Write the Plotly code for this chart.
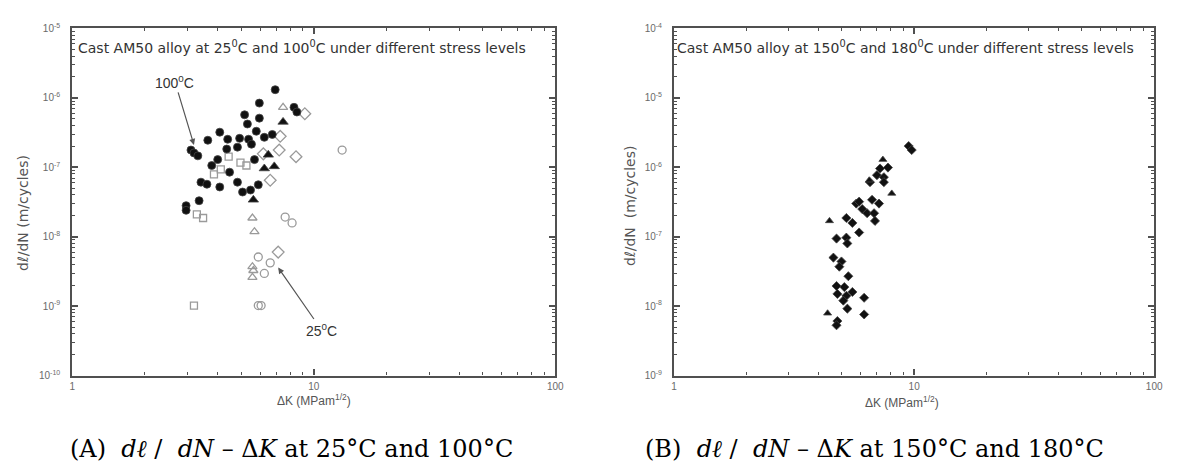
import math
import plotly.graph_objects as go

# ---------------- Data (ΔK in MPa·m^1/2, dl/dN in m/cycle) ----------------
# Panel A: 100°C (filled) and 25°C (open) at several stress levels
a100_circ_x = [6.92, 5.95, 5.17, 5.31, 5.95, 8.28, 8.51, 4.08, 3.64, 4.40, 4.93, 5.37, 5.52,
               5.78, 6.24, 6.73, 4.36, 4.83, 3.10, 3.19, 3.31, 4.00, 3.78, 5.68, 4.48, 3.41,
               3.61, 4.08, 4.83, 5.07, 5.47, 5.89, 3.35, 2.96, 2.96]
a100_circ_y = [1.31e-6, 8.4e-7, 5.7e-7, 4.2e-7, 5.1e-7, 7.3e-7, 6.25e-7, 3.2e-7, 2.45e-7, 2.53e-7,
               2.61e-7, 2.53e-7, 2.15e-7, 3.3e-7, 2.7e-7, 2.97e-7, 1.83e-7, 1.95e-7, 1.77e-7,
               1.61e-7, 1.46e-7, 1.29e-7, 1.06e-7, 1.29e-7, 8.5e-8, 6.1e-8, 5.7e-8, 5.2e-8,
               6.1e-8, 4.4e-8, 4.7e-8, 5.6e-8, 3.3e-8, 2.8e-8, 2.4e-8]
a100_tri_x = [7.46, 6.48, 6.24, 6.86, 5.62]
a100_tri_y = [4.5e-7, 1.51e-7, 9.6e-8, 1.03e-7, 3.4e-8]

a25_sq_x = [4.44, 4.97, 5.26, 3.86, 4.12, 3.28, 3.48, 3.19]
a25_sq_y = [1.42e-7, 1.17e-7, 1.06e-7, 7.9e-8, 9.3e-8, 2.1e-8, 1.86e-8, 1.02e-9]
a25_tri_x = [7.46, 5.57, 5.68, 5.57, 5.62, 5.57]
a25_tri_y = [7.3e-7, 1.86e-8, 1.18e-8, 3.7e-9, 3.26e-9, 2.6e-9]
a25_circ_x = [13.1, 7.61, 8.13, 5.89, 6.60, 6.24, 5.89, 6.05]
a25_circ_y = [1.77e-7, 1.92e-8, 1.58e-8, 5.1e-9, 4.2e-9, 2.96e-9, 1.02e-9, 1.02e-9]
a25_dia_x = [9.18, 7.26, 7.19, 8.44, 6.60, 7.12, 6.18]
a25_dia_y = [5.9e-7, 2.79e-7, 1.77e-7, 1.42e-7, 6.5e-8, 6.0e-9, 1.56e-7]

# Panel B: 150°C and 180°C
b150_x = [9.49, 9.77, 7.21, 7.78, 7.00, 7.48, 6.55, 7.48, 5.74, 5.90, 6.68, 7.14, 6.08, 6.37,
          6.81, 6.87, 5.22, 5.53, 5.90, 4.75, 5.22, 5.27, 4.61, 4.98, 4.88, 5.32, 4.75, 5.12,
          4.79, 5.22, 5.53, 5.07, 6.19, 5.27, 6.19, 4.79, 4.75]
b150_y = [2.02e-6, 1.77e-6, 9.6e-7, 9.9e-7, 7.7e-7, 7.2e-7, 6.1e-7, 6.1e-7, 3.0e-7, 3.2e-7,
          3.4e-7, 3.0e-7, 2.5e-7, 2.18e-7, 2.18e-7, 1.69e-7, 1.86e-7, 1.58e-7, 1.15e-7, 9.4e-8,
          9.7e-8, 8.0e-8, 5.0e-8, 4.4e-8, 3.7e-8, 2.7e-8, 1.95e-8, 1.88e-8, 1.5e-8, 1.41e-8,
          1.6e-8, 1.2e-8, 1.32e-8, 9.2e-9, 7.6e-9, 6.1e-9, 5.3e-9]
b180_x = [7.41, 6.50, 8.07, 4.44, 4.36]
b180_y = [1.29e-6, 6.5e-7, 4.2e-7, 1.69e-7, 7.9e-9]

x_ticks = [1, 10, 100]
a_y_ticks = [1e-10, 1e-9, 1e-8, 1e-7, 1e-6, 1e-5]
b_y_ticks = [1e-9, 1e-8, 1e-7, 1e-6, 1e-5, 1e-4]

# ---------------- Figure ----------------
W, H = 1179, 473
fig = go.Figure()

FILL = "#111111"
OPEN = "#9a9a9a"

def add(x, y, symbol, color, size, xa, ya, open_=False):
    m = dict(symbol=symbol, size=size, color=color)
    if open_:
        m["line"] = dict(color=color, width=1.3)
    else:
        m["line"] = dict(color="#444444", width=0.8)
    fig.add_trace(go.Scatter(x=x, y=y, mode="markers", marker=m, xaxis=xa, yaxis=ya,
                             showlegend=False, hoverinfo="x+y"))

add(a25_sq_x, a25_sq_y, "square-open", OPEN, 7, "x", "y", True)
add(a25_tri_x, a25_tri_y, "triangle-up-open", OPEN, 8, "x", "y", True)
add(a25_circ_x, a25_circ_y, "circle-open", OPEN, 8, "x", "y", True)
add(a25_dia_x, a25_dia_y, "diamond-open", OPEN, 9, "x", "y", True)
add(a100_circ_x, a100_circ_y, "circle", FILL, 8, "x", "y")
add(a100_tri_x, a100_tri_y, "triangle-up", FILL, 9, "x", "y")
add(b150_x, b150_y, "diamond", FILL, 7, "x2", "y2")
add(b180_x, b180_y, "triangle-up", FILL, 7, "x2", "y2")

def px_x(p):
    return p / W

def px_y(p):
    return 1 - p / H

def minor_vals(lo, hi):
    out = []
    for e in range(lo, hi):
        for k in range(2, 10):
            out.append(k * 10 ** e)
    return out

AX = "#505050"
axis_common = dict(type="log", showline=True, linecolor=AX, linewidth=2.2, mirror="allticks",
                   ticks="inside", ticklen=6, tickwidth=1.5, tickcolor=AX, showgrid=False,
                   zeroline=False, tickfont=dict(family="Liberation Sans, Arial", size=10, color="#6a6a6a"),
                   tickmode="array")

MINOR = dict(ticks="inside", ticklen=3, tickwidth=1.2, tickcolor=AX)

xa = dict(axis_common, domain=[px_x(70), px_x(558)], range=[0, 2], tickvals=x_ticks,
          ticktext=[str(v) for v in x_ticks], anchor="y",
          minor=dict(MINOR, tickvals=minor_vals(0, 2)))
xb = dict(axis_common, domain=[px_x(678), px_x(1163)], range=[0, 2], tickvals=x_ticks,
          ticktext=[str(v) for v in x_ticks], anchor="y2",
          minor=dict(MINOR, tickvals=minor_vals(0, 2)))

def sup(v):
    e = int(round(math.log10(v)))
    return "10<sup>%d</sup>" % e

ya = dict(axis_common, domain=[px_y(379), px_y(22)], range=[-10, -5], tickvals=a_y_ticks,
          ticktext=[sup(v) for v in a_y_ticks], anchor="x", ticklabelstandoff=8,
          minor=dict(MINOR, tickvals=minor_vals(-10, -5)))
yb = dict(axis_common, domain=[px_y(379), px_y(22)], range=[-9, -4], tickvals=b_y_ticks,
          ticktext=[sup(v) for v in b_y_ticks], anchor="x2", ticklabelstandoff=8,
          minor=dict(MINOR, tickvals=minor_vals(-9, -4)))

fig.update_layout(xaxis=xa, yaxis=ya, xaxis2=xb, yaxis2=yb)

ann = []
SANS = "Liberation Sans, Arial"
WIDE = "DejaVu Sans, Liberation Sans"
SERIF = "DejaVu Serif, Liberation Serif"

def txt(x, y, text, size, color="#333333", family=SANS, xanchor="center", angle=0):
    ann.append(dict(x=px_x(x), y=px_y(y), xref="paper", yref="paper", text=text, showarrow=False,
                    font=dict(family=family, size=size, color=color), xanchor=xanchor,
                    yanchor="middle", textangle=angle))

txt(74, 41, "Cast AM50 alloy at 25<sup>0</sup>C and 100<sup>0</sup>C under different stress levels",
    14, family=WIDE, xanchor="left")
txt(679, 41, "Cast AM50 alloy at 150<sup>0</sup>C and 180<sup>0</sup>C under different stress levels",
    14, family=WIDE, xanchor="left")
txt(314, 404, "ΔK (MPam<sup>1/2</sup>)", 12, "#555555")
txt(908, 406, "ΔK (MPam<sup>1/2</sup>)", 12, "#555555")
txt(20, 212, "dℓ/dN (m/cycles)", 14, "#555555", family=WIDE, angle=-90)
txt(634, 205, "dℓ/dN  (m/cycles)", 14, "#555555", family=WIDE, angle=-90)
txt(291, 455, "(A)  <i>dℓ</i> /  <i>dN</i> – Δ<i>K</i> at 25°C and 100°C", 24, "#000000", SERIF)
txt(880, 455, "(B)  <i>dℓ</i> /  <i>dN</i> – Δ<i>K</i> at 150°C and 180°C", 24, "#000000", SERIF)

# arrow annotations (head positioned in data space; log axes use log10 coords)
ann.append(dict(x=math.log10(3.19), y=math.log10(2.1e-7), xref="x", yref="y",
                text="100<sup>0</sup>C", showarrow=True, ax=-19, ay=-63,
                arrowhead=2, arrowsize=1, arrowwidth=1.2, arrowcolor="#555555",
                font=dict(family=SANS, size=14, color="#333333")))
ann.append(dict(x=math.log10(7.12), y=math.log10(3.6e-9), xref="x", yref="y",
                text="25<sup>0</sup>C", showarrow=True, ax=43, ay=62,
                arrowhead=2, arrowsize=1, arrowwidth=1.2, arrowcolor="#555555",
                font=dict(family=SANS, size=14, color="#333333")))

fig.update_layout(annotations=ann, width=W, height=H, margin=dict(l=0, r=0, t=0, b=0),
                  paper_bgcolor="white", plot_bgcolor="white", showlegend=False)

fig.write_html("out.html", config={"displayModeBar": False},
               post_script="document.body.style.margin='0';document.body.style.overflow='hidden';")
